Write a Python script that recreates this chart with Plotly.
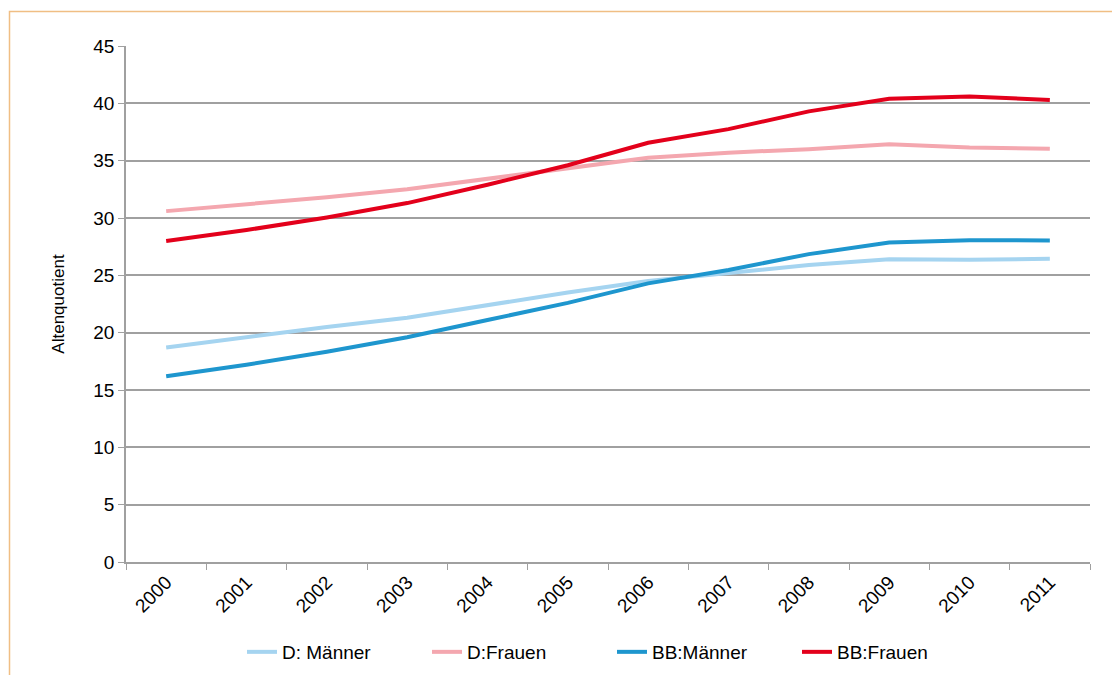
import plotly.graph_objects as go

years = ["2000", "2001", "2002", "2003", "2004", "2005", "2006", "2007", "2008", "2009", "2010", "2011"]
d_maenner = [18.7, 19.6, 20.5, 21.3, 22.4, 23.5, 24.5, 25.2, 25.9, 26.4, 26.35, 26.45]
d_frauen = [30.6, 31.2, 31.8, 32.5, 33.4, 34.3, 35.25, 35.7, 36.0, 36.44, 36.15, 36.03]
bb_maenner = [16.2, 17.2, 18.33, 19.6, 21.1, 22.6, 24.3, 25.46, 26.85, 27.87, 28.07, 28.04]
bb_frauen = [28.0, 28.95, 30.05, 31.3, 32.9, 34.6, 36.56, 37.75, 39.3, 40.4, 40.6, 40.3]

series = [
    ("D: Männer", d_maenner, "#A5D4F0"),
    ("D:Frauen", d_frauen, "#F4A7AF"),
    ("BB:Männer", bb_maenner, "#1E96CE"),
    ("BB:Frauen", bb_frauen, "#E3001B"),
]

fig = go.Figure()
for name, vals, col in series:
    fig.add_trace(go.Scatter(x=years, y=vals, name=name, mode="lines",
                             line=dict(color=col, width=4)))

font_family = "Liberation Sans, Arial, sans-serif"
W, H = 1120, 675
OFF = 8  # page body margin offset
# target page-pixel positions of the plot area
left, right, top, bottom = 126, 1090, 46, 562
ml = left - OFF
mt = top - OFF
mr = W - (right - OFF)
mb = H - (bottom - OFF)
pw, ph = W - ml - mr, H - mt - mb


def px_x(page_x):
    return (page_x - left) / pw


def px_y(page_y):
    return (bottom - page_y) / ph


fig.update_layout(
    width=W, height=H,
    margin=dict(l=ml, r=mr, t=mt, b=mb, autoexpand=False),
    paper_bgcolor="white", plot_bgcolor="white",
    font=dict(family=font_family, color="#000000", size=19),
    xaxis=dict(type="category", tickson="boundaries", ticks="outside", ticklen=6,
               range=[-0.5, len(years) - 0.5], automargin=False,
               tickcolor="#A0A0A0", showline=True, linecolor="#A0A0A0", linewidth=1.5,
               showgrid=False, tickangle=-45, tickfont=dict(size=19), zeroline=False),
    yaxis=dict(range=[0, 45], dtick=5, ticks="outside", ticklen=6, tickcolor="#A0A0A0",
               automargin=False,
               showline=True, linecolor="#A0A0A0", linewidth=1.5, gridcolor="#A0A0A0",
               gridwidth=1.5, zeroline=False, tickfont=dict(size=19),
               title=dict(text="Altenquotient", font=dict(size=17), standoff=24)),
    legend=dict(orientation="h", x=px_x(242), xanchor="left", y=px_y(652),
                yanchor="middle", font=dict(size=19), entrywidth=140, entrywidthmode="pixels",
                bgcolor="rgba(0,0,0,0)"),
    showlegend=True,
)

fig.add_shape(type="rect", xref="paper", yref="paper",
              x0=px_x(9.5), x1=px_x(W + 30),
              y0=px_y(H + 30), y1=px_y(11.5),
              line=dict(color="#F0BE84", width=1.5), fillcolor="rgba(0,0,0,0)", layer="below")

fig.write_html("out.html")
